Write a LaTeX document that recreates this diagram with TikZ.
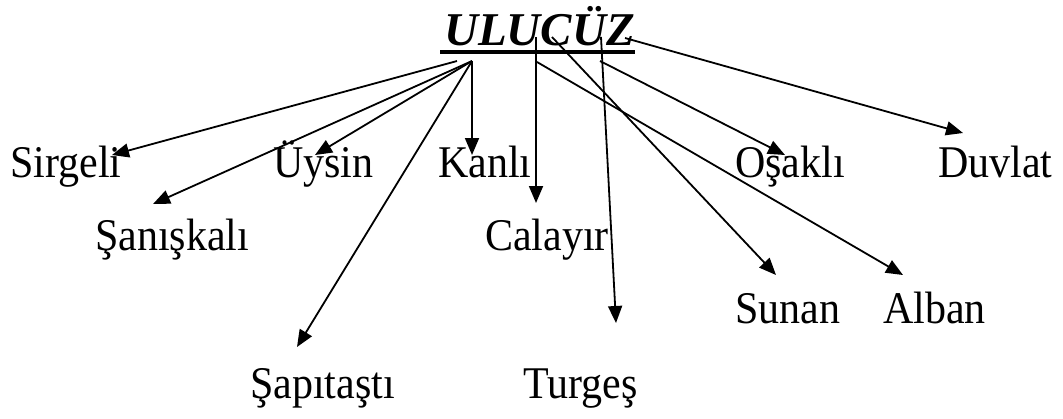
\documentclass[tikz,border=0pt]{standalone}
\usepackage{fontspec}
\usepackage{graphicx}
\setmainfont{Liberation Serif}
\usetikzlibrary{arrows.meta}
\newcommand{\tallt}[1]{\scalebox{1}[1.08]{#1}}
\begin{document}
\begin{tikzpicture}[x=1pt,y=-1pt,
  lbl/.style={anchor=base west,inner sep=0pt,font=\fontsize{42}{48}\selectfont},
  ttl/.style={anchor=base west,inner sep=0pt,font=\fontsize{47}{54}\selectfont\bfseries\itshape},
  arr/.style={line width=1.8pt,-{Triangle[length=17pt,width=14pt]}}]
\useasboundingbox (0,0) rectangle (1063,418);
% title
\node[ttl] (title) at (444,45) {ULUCÜZ};
\coordinate (ulA) at (440,52);
\coordinate (ulB) at (635,52);
\draw[line width=4.5pt] (ulA) -- (ulB);
% labels
\node[lbl] (sirgeli) at (10,177) {\tallt{Sirgeli}};
\node[lbl] (uysin) at (273,177) {\tallt{Üysin}};
\node[lbl] (kanli) at (438,177) {\tallt{Kanlı}};
\node[lbl] (osakli) at (735,177) {\tallt{Oşaklı}};
\node[lbl] (duvlat) at (938,177) {\tallt{Duvlat}};
\node[lbl] (saniskali) at (95,250) {\tallt{Şanışkalı}};
\node[lbl] (calayir) at (485,250) {\tallt{Calayır}};
\node[lbl] (sunan) at (735,323) {\tallt{Sunan}};
\node[lbl] (alban) at (883,323) {\tallt{Alban}};
\node[lbl] (sapitasti) at (250,398) {\tallt{Şapıtaştı}};
\node[lbl] (turges) at (523,398) {\tallt{Turgeş}};
% start points
\coordinate (s1) at (457,61);
\coordinate (s2) at (472,61);
\coordinate (s3) at (536,37);
\coordinate (s4) at (537,62);
\coordinate (s5) at (552,37);
\coordinate (s6) at (601,37);
\coordinate (s7) at (600,61);
\coordinate (s8) at (625,38);
% tips
\coordinate (tSirgeli) at (112,155);
\coordinate (tSaniskali) at (153,204);
\coordinate (tUysin) at (315,155);
\coordinate (tSapitasti) at (297,347);
\coordinate (tKanli) at (472,155);
\coordinate (tCalayir) at (536,203);
\coordinate (tAlban) at (903,275);
\coordinate (tSunan) at (776,275);
\coordinate (tTurges) at (616,323);
\coordinate (tOsakli) at (785,155);
\coordinate (tDuvlat) at (963,133);
% arrows
\draw[arr] (s1) -- (tSirgeli);
\draw[arr] (s2) -- (tSaniskali);
\draw[arr] (s2) -- (tUysin);
\draw[arr] (s2) -- (tSapitasti);
\draw[arr] (s2) -- (tKanli);
\draw[arr] (s3) -- (tCalayir);
\draw[arr] (s4) -- (tAlban);
\draw[arr] (s5) -- (tSunan);
\draw[arr] (s6) -- (tTurges);
\draw[arr] (s7) -- (tOsakli);
\draw[arr] (s8) -- (tDuvlat);
\end{tikzpicture}
\end{document}
